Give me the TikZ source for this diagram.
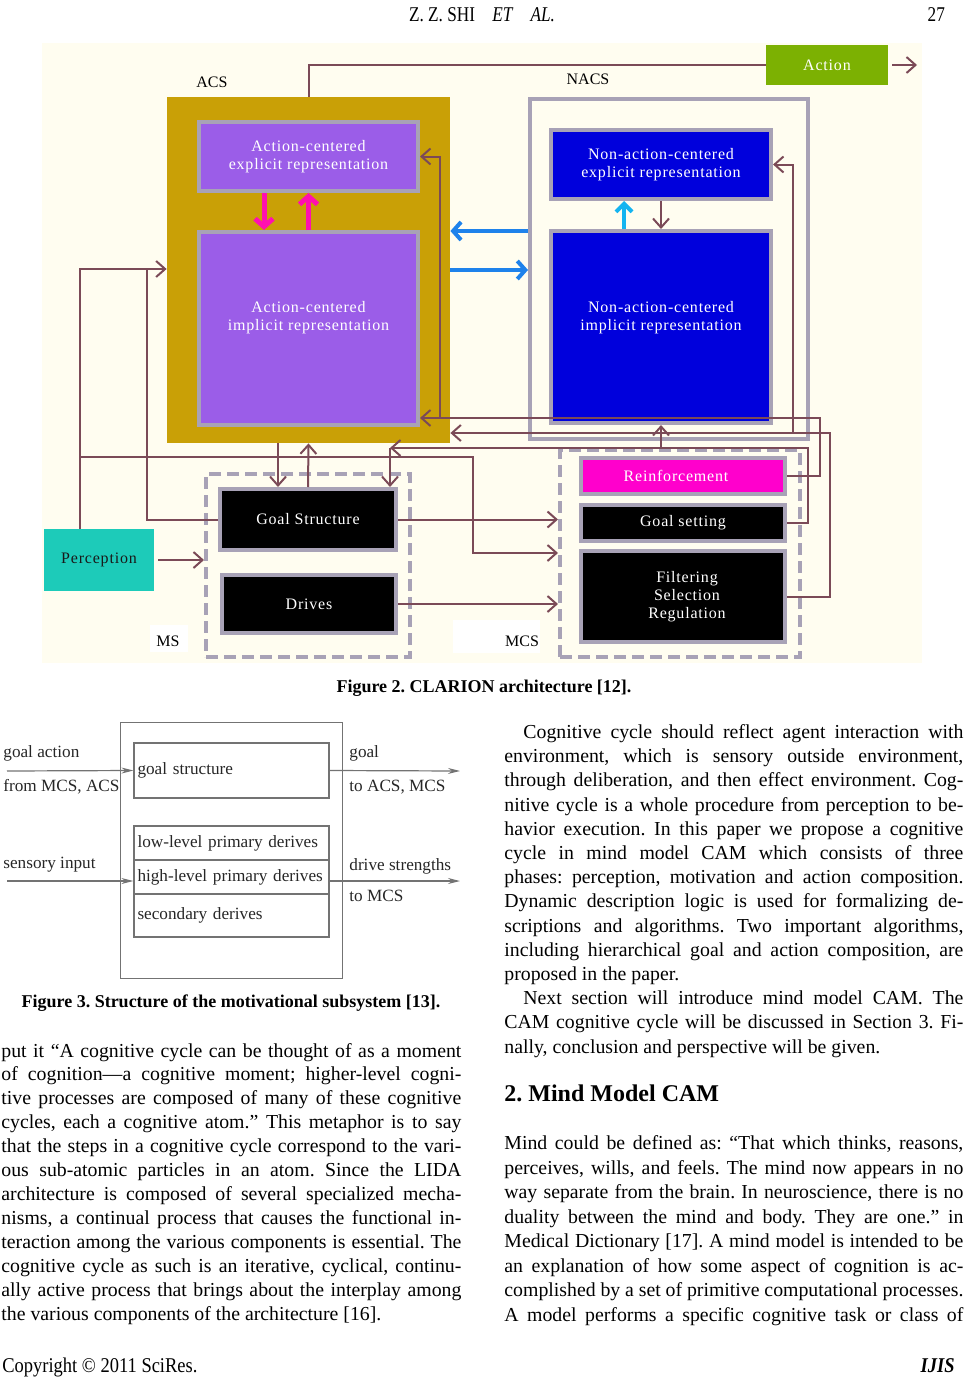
\documentclass[tikz,border=0pt]{standalone}
\usepackage{fontspec}
\usepackage{graphicx}
\setmainfont{Liberation Serif}
\newfontfamily\figfont{Liberation Serif}[LetterSpace=5]
\usetikzlibrary{arrows.meta}
\frenchspacing

\definecolor{cream}{HTML}{FFFDF0}
\definecolor{acsgold}{HTML}{C9A006}
\definecolor{acspurple}{HTML}{9B5DE8}
\definecolor{framegray}{HTML}{A8A2B6}
\definecolor{nacsblue}{HTML}{0000DC}
\definecolor{actgreen}{HTML}{7CB102}
\definecolor{perteal}{HTML}{1DCBB9}
\definecolor{reinfpink}{HTML}{FF00CC}
\definecolor{wire}{HTML}{7B4A57}
\definecolor{linkblue}{HTML}{1E82EB}
\definecolor{linkcyan}{HTML}{14B4F0}
\definecolor{hotpink}{HTML}{FF10B0}

\tikzset{
  repbox/.style={draw=framegray, line width=2pt, text=white, align=center, inner sep=0pt,
    font=\figfont\fontsize{8}{9}\selectfont},
  dashframe/.style={draw=framegray, line width=2pt, dash pattern=on 6pt off 3pt},
  sublbl/.style={font=\fontsize{8}{10}\selectfont, inner sep=0pt},
  wireline/.style={wire, line width=1pt},
  wirearr/.style={wire, line width=1pt, -{Straight Barb[length=4.5pt,width=8pt]}},
  pinkarr/.style={hotpink, line width=2.5pt, -{Straight Barb[length=4pt,width=9pt]}},
  bluearr/.style={linkblue, line width=2pt, -{Straight Barb[length=4pt,width=9pt]}},
  cyanarr/.style={linkcyan, line width=2pt, -{Straight Barb[length=4pt,width=8pt]}},
  box3/.style={draw=black!55, line width=0.6pt, minimum width=97.5pt, text width=94pt,
    align=left, inner xsep=1.5pt, inner ysep=0pt, text=black!85, font=\fontsize{8.6}{10}\selectfont},
  f3txt/.style={text=black!85, font=\fontsize{8.6}{10}\selectfont, inner sep=0pt},
  f3arr/.style={black!55, line width=0.6pt, -{Stealth[length=6pt,width=3pt]}},
  txt/.style={font=\fontsize{9.9}{12}\selectfont, inner sep=0pt},
  capt/.style={font=\bfseries\fontsize{9}{11}\selectfont, inner sep=0pt}
}

\begin{document}
\begin{tikzpicture}[x=0.5pt,y=-0.5pt]
\useasboundingbox (0,0) rectangle (968,1386);

% running head
\node[anchor=base, font=\fontsize{10.5}{12}\selectfont] (hdr) at (482,22) {\scalebox{0.82}[1]{Z. Z. SHI\quad \textit{ET}\quad \textit{AL.}}};
\node[anchor=base east, font=\fontsize{10.5}{12}\selectfont] (pgno) at (952,22) {\scalebox{0.82}[1]{27}};

%%% Figure 2
\fill[cream] (42,43) rectangle (922,663);

\node[fill=acsgold, minimum width=141.5pt, minimum height=173pt, inner sep=0pt] (acs) at (308.5,270) {};
\node[repbox, fill=acspurple, minimum width=109.5pt, minimum height=34.5pt] (acsexp) at (308.5,156.5) {Action-centered\\explicit representation};
\node[repbox, fill=acspurple, minimum width=109.5pt, minimum height=96.5pt] (acsimp) at (308.5,328.5) {};
\node[repbox, draw=none] (acsimptxt) at (308.5,318) {Action-centered\\implicit representation};
\node[sublbl] (acslbl) at (212,82) {ACS};

\node[draw=framegray, line width=2pt, fill=cream, minimum width=139pt, minimum height=170pt] (nacs) at (669,269) {};
\node[repbox, fill=nacsblue, minimum width=110pt, minimum height=34.5pt] (nacsexp) at (661,164.5) {Non-action-centered\\explicit representation};
\node[repbox, fill=nacsblue, minimum width=110pt, minimum height=96pt] (nacsimp) at (661,327) {};
\node[repbox, draw=none] (nacsimptxt) at (661,318) {Non-action-centered\\implicit representation};
\node[sublbl] (nacslbl) at (588,79) {NACS};

\node[fill=actgreen, minimum width=61pt, minimum height=20pt, text=white, font=\figfont\fontsize{8}{9}\selectfont] (action) at (827,65) {Action};
\node[fill=perteal, minimum width=55pt, minimum height=31pt, text=black!90, font=\figfont\fontsize{8}{9}\selectfont] (perc) at (99,560) {Perception};

% MS
\fill[white] (150,625) rectangle (188,652);
\node[sublbl] (mslbl) at (168,641) {MS};
\node[dashframe, minimum width=102pt, minimum height=91.5pt] (ms) at (308,565.5) {};
\node[repbox, fill=black, minimum width=88pt, minimum height=30.5pt] (gstr) at (308,519.5) {Goal Structure};
\node[repbox, fill=black, minimum width=87pt, minimum height=29pt] (drv) at (309,604) {Drives};

% MCS
\fill[white] (453,620) rectangle (540,653);
\node[sublbl] (mcslbl) at (522,641) {MCS};
\node[dashframe, minimum width=120pt, minimum height=103.5pt] (mcs) at (680,553.5) {};
\node[repbox, fill=reinfpink, minimum width=102pt, minimum height=18pt] (reinf) at (683,476) {\hspace*{-7pt}Reinforcement};
\node[repbox, fill=black, minimum width=102pt, minimum height=18pt] (gset) at (683,523) {Goal setting};
\node[repbox, fill=black, minimum width=102pt, minimum height=45.5pt] (filt) at (683,596.5) {\hspace*{4pt}Filtering\\\hspace*{4pt}Selection\\\hspace*{4pt}Regulation};

% bends
\coordinate (pj) at (80,269);
\coordinate (pk) at (80,457);
\coordinate (pm) at (473,553);
\coordinate (pg) at (147,269);
\coordinate (gq) at (808,448);
\coordinate (gr) at (390,448);
\coordinate (rq) at (820,418);
\coordinate (rb) at (440,418);
\coordinate (fq) at (830,433);
\coordinate (fb) at (793,433);
\coordinate (actout) at (917,65);

\draw[wireline] (acs.north) |- (action.west);
\draw[wirearr, shorten <=2pt] (action.east) -- (actout);
\draw[wirearr] (perc.north -| pj) -- (pj) -- (acs.west |- pj);
\draw[wirearr] (pk) -| (pm) -- (mcs.west |- pm);
\draw[wireline] (gstr.west) -| (pg);
\draw[wirearr] (gstr.east) -- (mcs.west |- gstr.east);
\draw[wirearr] (drv.east) -- (mcs.west |- drv.east);
\draw[wirearr, shorten <=2pt] (perc.east) -- (ms.west |- perc.east);
\draw[wirearr] (acs.south -| 278,0) -- (gstr.north -| 278,0);
\draw[wirearr] (gstr.north) -- (acs.south);
\draw[wirearr] (gset.east) -| (gq) -- (gr);
\draw[wirearr] (gr) -- (gstr.north -| gr);
\draw[wirearr] (gq -| nacsimp.south) -- (nacsimp.south);
\draw[wirearr] (reinf.east) -| (rq) -- (acsimp.east |- rq);
\draw[wirearr] (rb) |- (acsexp.east);
\draw[wirearr] (filt.east) -| (fq) -- (acs.east |- fq);
\draw[wirearr] (fb) |- (nacsexp.east);

\draw[pinkarr] (acsexp.south -| 264,0) -- (acsimp.north -| 264,0);
\draw[pinkarr] (acsimp.north) -- (acsexp.south);
\draw[bluearr] (nacs.west |- 0,231) -- (acs.east |- 0,231);
\draw[bluearr] (acs.east) -- (nacs.west |- acs.east);
\draw[cyanarr] (nacsimp.north -| 624,0) -- (nacsexp.south -| 624,0);
\draw[wirearr] (nacsexp.south) -- (nacsimp.north);

\node[capt, anchor=base] (cap2) at (484,692) {Figure 2. CLARION architecture [12].};

%%% Figure 3
\node[draw=black!55, line width=0.6pt, minimum width=111pt, minimum height=128pt] (f3out) at (231.5,850.5) {};
\node[box3, minimum height=27.5pt] (f3goal) at (231.5,770.5) {goal structure};
\node[box3, minimum height=17pt] (f3low) at (231.5,843) {low-level primary derives};
\node[box3, minimum height=17pt] (f3high) at (231.5,877) {high-level primary derives};
\node[box3, minimum height=21.5pt] (f3sec) at (231.5,915.5) {secondary derives};

\coordinate (ga0) at (7,771);
\coordinate (gd1) at (460,771);
\coordinate (si0) at (7,881);
\coordinate (ds1) at (460,881);
\draw[f3arr] (ga0) -- (f3goal.west);
\draw[f3arr] (f3goal.east) -- (gd1);
\draw[f3arr] (si0) -- (f3high.west |- si0);
\draw[f3arr] (f3high.east |- ds1) -- (ds1);

\node[f3txt, anchor=base west] (galbl) at (3,757) {goal action};
\node[f3txt, anchor=base west] (fmlbl) at (3,791) {from MCS, ACS};
\node[f3txt, anchor=base west] (silbl) at (3,868) {sensory input};
\node[f3txt, anchor=base west] (glbl) at (349,757) {goal};
\node[f3txt, anchor=base west] (talbl) at (349,791) {to ACS, MCS};
\node[f3txt, anchor=base west] (dslbl) at (349,870) {drive strengths};
\node[f3txt, anchor=base west] (tmlbl) at (349,901) {to MCS};

\node[capt, anchor=base] (cap3) at (231,1007) {Figure 3. Structure of the motivational subsystem [13].};

%%% left column
\foreach \t [count=\i from 0] in {
  {put it “A cognitive cycle can be thought of as a moment},
  {of cognition—a cognitive moment; higher-level cogni-},
  {tive processes are composed of many of these cognitive},
  {cycles, each a cognitive atom.” This metaphor is to say},
  {that the steps in a cognitive cycle correspond to the vari-},
  {ous sub-atomic particles in an atom. Since the LIDA},
  {architecture is composed of several specialized mecha-},
  {nisms, a continual process that causes the functional in-},
  {teraction among the various components is essential. The},
  {cognitive cycle as such is an iterative, cyclical, continu-},
  {ally active process that brings about the interplay among}}
  \node[txt, anchor=base west] (lc\i) at (1,{1057+23.95*\i}) {\makebox[230pt][s]{\t}};
\node[txt, anchor=base west] (lc11) at (1,1320.5) {the various components of the architecture [16].};

%%% right column
\node[txt, anchor=base west] (rc0) at (523,738.5) {\makebox[220pt][s]{Cognitive cycle should reflect agent interaction with}};
\foreach \t [count=\i from 1] in {
  {environment, which is sensory outside environment,},
  {through deliberation, and then effect environment. Cog-},
  {nitive cycle is a whole procedure from perception to be-},
  {havior execution. In this paper we propose a cognitive},
  {cycle in mind model CAM which consists of three},
  {phases: perception, motivation and action composition.},
  {Dynamic description logic is used for formalizing de-},
  {scriptions and algorithms. Two important algorithms,},
  {including hierarchical goal and action composition, are}}
  \node[txt, anchor=base west] (rc\i) at (504,{738.5+24.2*\i}) {\makebox[229.5pt][s]{\t}};
\node[txt, anchor=base west] (rc10) at (504,980.5) {proposed in the paper.};
\node[txt, anchor=base west] (rc11) at (523,1004.7) {\makebox[220pt][s]{Next section will introduce mind model CAM. The}};
\node[txt, anchor=base west] (rc12) at (504,1028.9) {\makebox[229.5pt][s]{CAM cognitive cycle will be discussed in Section 3. Fi-}};
\node[txt, anchor=base west] (rc13) at (504,1053.1) {nally, conclusion and perspective will be given.};

\node[anchor=base west, inner sep=0pt, font=\bfseries\fontsize{12}{14}\selectfont] (sec2) at (504,1101) {2. Mind Model CAM};

\foreach \t [count=\i from 0] in {
  {Mind could be defined as: “That which thinks, reasons,},
  {perceives, wills, and feels. The mind now appears in no},
  {way separate from the brain. In neuroscience, there is no},
  {duality between the mind and body. They are one.” in},
  {Medical Dictionary [17]. A mind model is intended to be},
  {an explanation of how some aspect of cognition is ac-},
  {complished by a set of primitive computational processes.},
  {A model performs a specific cognitive task or class of}}
  \node[txt, anchor=base west] (mc\i) at (504,{1149.5+24.5*\i}) {\makebox[229.5pt][s]{\t}};

% foot
\node[anchor=base west, inner sep=0pt, font=\fontsize{10.5}{12}\selectfont] (cpy) at (2,1372) {\scalebox{0.88}[1]{Copyright © 2011 SciRes.}};
\node[anchor=base east, inner sep=0pt, font=\bfseries\itshape\fontsize{10.5}{12}\selectfont] (jrn) at (955,1372) {\scalebox{0.88}[1]{IJIS}};
\end{tikzpicture}
\end{document}
